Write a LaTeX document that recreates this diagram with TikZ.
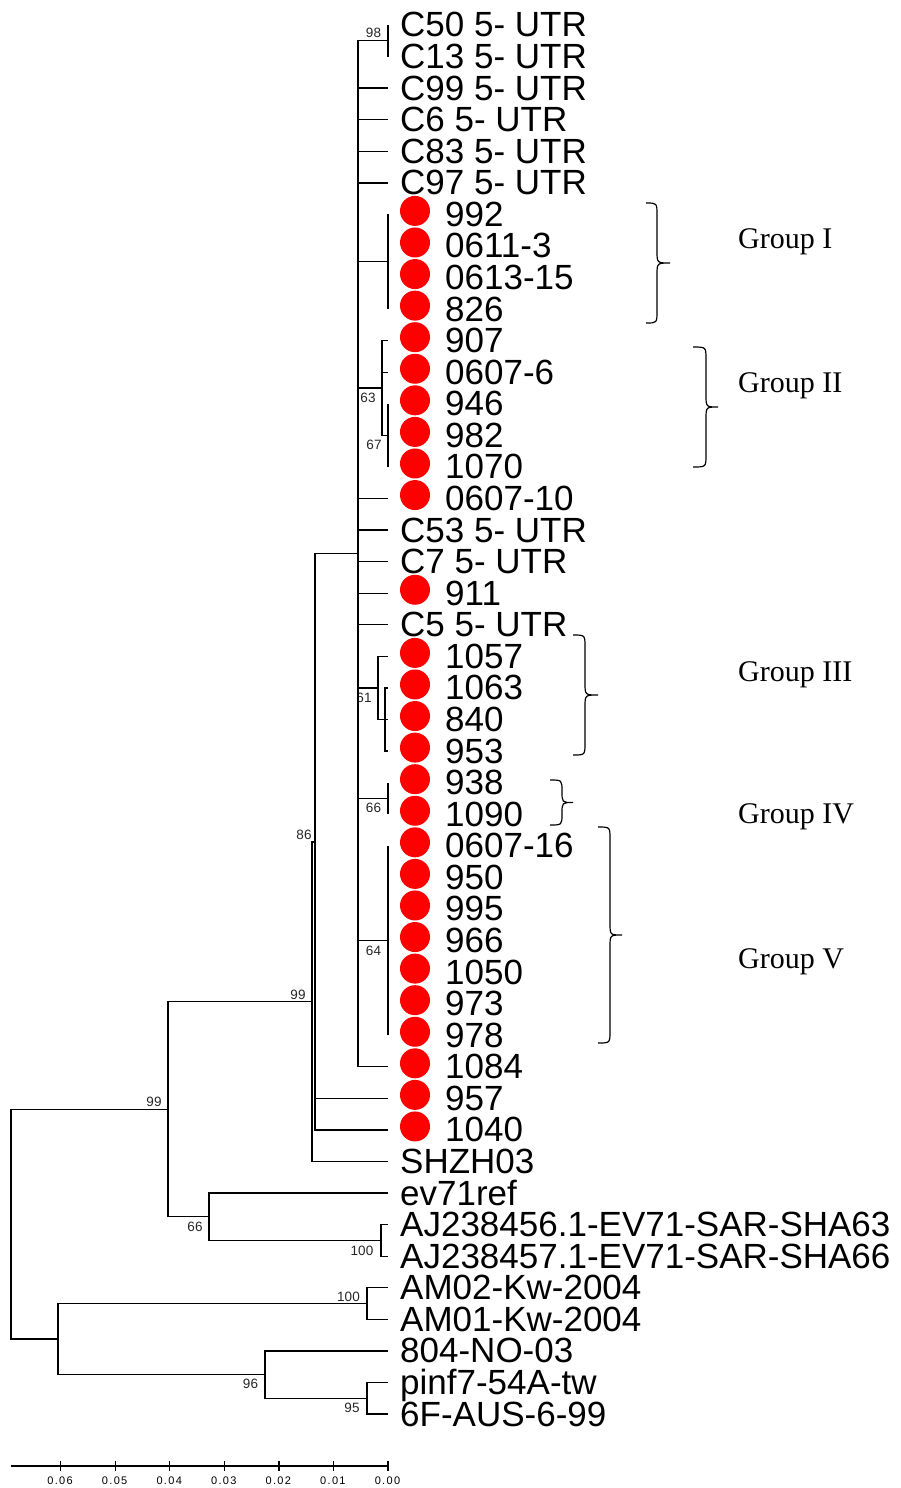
\documentclass[tikz,border=0pt]{standalone}
\usepackage{fontspec}
\setmainfont{Liberation Sans}
\newfontfamily\grpfont{Liberation Serif}
\newfontfamily\sclfont[LetterSpace=12]{Liberation Sans}
\newcommand\grpbrace[5]{%
  \pgfmathsetmacro\bym{(#4+#5)/2}%
  \pgfmathsetmacro\brr{min(12,(#5-#4)/4)}%
  \draw[brc] (#1,#4) .. controls (#2,#4) .. (#2,{#4+\brr}) -- (#2,{\bym-\brr})
     .. controls (#2,\bym) .. (#3,\bym) .. controls (#2,\bym) .. (#2,{\bym+\brr})
     -- (#2,{#5-\brr}) .. controls (#2,#5) .. (#1,#5);%
}
\begin{document}
\begin{tikzpicture}[x=1pt,y=-1pt,
  edge/.style={line width=1.3pt, black},
  leaf/.style={anchor=base west, inner sep=0pt, font=\fontsize{35}{40}\selectfont},
  dotmark/.style={circle, fill=red, draw=none, minimum size=30pt, inner sep=0pt},
  boot/.style={inner sep=0pt, font=\fontsize{13.5}{15}\selectfont, text=black!85},
  grp/.style={anchor=base west, inner sep=0pt, font=\grpfont\fontsize{30}{34}\selectfont},
  scl/.style={inner sep=0pt, font=\sclfont\fontsize{11}{13}\selectfont},
  brc/.style={line width=1.2pt}]
\useasboundingbox (0,0) rectangle (901,1488);

% leaves
\foreach \n/\lab/\hasdot in {0/C50 5- UTR/0,1/C13 5- UTR/0,2/C99 5- UTR/0,3/C6 5- UTR/0,4/C83 5- UTR/0,5/C97 5- UTR/0,
  6/992/1,7/0611-3/1,8/0613-15/1,9/826/1,10/907/1,11/0607-6/1,12/946/1,13/982/1,14/1070/1,15/0607-10/1,
  16/C53 5- UTR/0,17/C7 5- UTR/0,18/911/1,19/C5 5- UTR/0,
  20/1057/1,21/1063/1,22/840/1,23/953/1,24/938/1,25/1090/1,26/0607-16/1,27/950/1,28/995/1,29/966/1,
  30/1050/1,31/973/1,32/978/1,33/1084/1,34/957/1,35/1040/1,
  36/SHZH03/0,37/ev71ref/0,38/AJ238456.1-EV71-SAR-SHA63/0,39/AJ238457.1-EV71-SAR-SHA66/0,
  40/AM02-Kw-2004/0,41/AM01-Kw-2004/0,42/804-NO-03/0,43/pinf7-54A-tw/0,44/6F-AUS-6-99/0}{
  \coordinate (t\n) at (388,{25+31.57*\n});
  \ifnum\hasdot=1
    \node[dotmark] (d\n) at (415,{25+31.57*\n-3.5}) {};
    \node[leaf] (l\n) at (445,{25+31.57*\n+12}) {\lab};
  \else
    \node[leaf] (l\n) at (400,{25+31.57*\n+12}) {\lab};
  \fi
}

% internal nodes
\coordinate (root) at (11,1224.15);
\coordinate (n99b) at (168,1109.2);
\coordinate (nB) at (58,1339.1);
\coordinate (n99a) at (312,1001.7);
\coordinate (n66b) at (209,1216.8);
\coordinate (n86) at (315,841.9);
\coordinate (nMain) at (358,553.8);
\coordinate (n98) at (388,40.8);
\coordinate (nG1) at (388,261.8);
\coordinate (n67) at (388,435.4);
\coordinate (n63) at (382,388.05);
\coordinate (n61b) at (385,719.5);
\coordinate (n61) at (378,688);
\coordinate (n66a) at (388,798.5);
\coordinate (n64) at (388,940.5);
\coordinate (n100a) at (381,1240.45);
\coordinate (n100b) at (367,1303.6);
\coordinate (n95) at (367,1398.3);
\coordinate (n96) at (265,1374.6);

% bootstrap values (drawn first so lines pass over them)
\node[boot] (b98) at (373.5,33) {98};
\node[boot] (b63) at (368,398) {63};
\node[boot] (b67) at (374,445) {67};
\node[boot] (b61) at (364,698) {61};
\node[boot] (b66a) at (373.5,808) {66};
\node[boot] (b64) at (373.5,951) {64};
\node[boot] (b86) at (304,835) {86};
\node[boot] (b99a) at (298,995) {99};
\node[boot] (b99b) at (154,1102) {99};
\node[boot] (b66b) at (195,1227) {66};
\node[boot] (b100a) at (362,1251) {100};
\node[boot] (b100b) at (348.5,1297) {100};
\node[boot] (b96) at (250.5,1384) {96};
\node[boot] (b95) at (352,1408) {95};

% edges
\foreach \p/\c in {root/n99b,root/nB,n99b/n99a,n99b/n66b,n99a/n86,n99a/t36,
  n86/nMain,n86/t34,n86/t35,n98/t0,n98/t1,
  n63/t10,n63/t11,n63/n67,n61/t20,n61/n61b,n66a/t24,n66a/t25,
  n66b/t37,n66b/n100a,n100a/t38,n100a/t39,nB/n100b,nB/n96,n100b/t40,n100b/t41,
  n96/t42,n96/n95,n95/t43,n95/t44}
  \draw[edge] (\p) |- (\c);
\foreach \c in {n98,t2,t3,t4,t5,nG1,n63,t15,t16,t17,t18,t19,n61,n66a,n64,t33}
  \draw[edge] (nMain) |- (\c);
\foreach \c in {t6,t7,t8,t9} \draw[edge] (nG1) |- (\c);
\foreach \c in {t12,t13,t14} \draw[edge] (n67) |- (\c);
\foreach \c in {t21,t22,t23} \draw[edge] (n61b) |- (\c);
\foreach \c in {t26,t27,t28,t29,t30,t31,t32} \draw[edge] (n64) |- (\c);

% scale bar
\coordinate (sL) at (11,1466);
\coordinate (sR) at (388,1466);
\draw[edge] (sL) -- (sR);
\foreach \k in {0,...,6}{
  \coordinate (tk\k) at ({388-54.57*\k},1461);
  \draw[edge] (tk\k) -- ++(0,10);
  \node[scl] (sl\k) at ({387.5-54.57*\k},1481) {0.0\k};
}

% group braces and labels
\grpbrace{646}{657}{670}{203}{323}
\grpbrace{693}{706}{718}{347}{467}
\grpbrace{573}{585}{598}{635}{755}
\grpbrace{550}{562}{573}{780}{825}
\grpbrace{598}{610}{622}{827}{1043}
\node[grp] (g1) at (738,248) {Group I};
\node[grp] (g2) at (738,392) {Group II};
\node[grp] (g3) at (738,681) {Group III};
\node[grp] (g4) at (738,823) {Group IV};
\node[grp] (g5) at (738,968) {Group V};
\end{tikzpicture}
\end{document}
